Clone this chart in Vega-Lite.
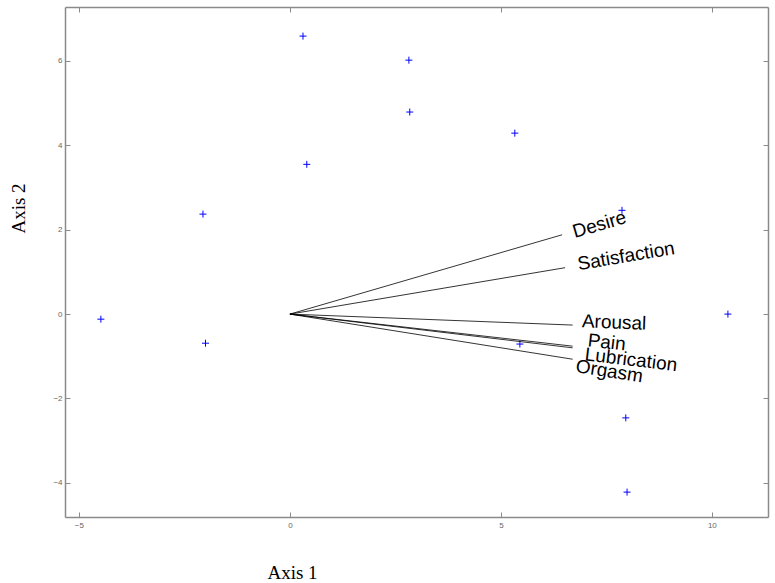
{
  "$schema": "https://vega.github.io/schema/vega-lite/v6.json",
  "width": 703,
  "height": 510,
  "autosize": {"type": "none"},
  "padding": {"left": 65, "top": 7, "right": 7, "bottom": 66},
  "background": "white",
  "config": {
    "view": {"stroke": null},
    "axis": {
      "grid": false,
      "domainColor": "#8a8a8a",
      "domainWidth": 1.5,
      "tickColor": "#8a8a8a",
      "tickSize": -5,
      "labelFont": "Liberation Sans",
      "labelFontSize": 8,
      "labelColor": "#666666",
      "titleFont": "Liberation Serif",
      "titleFontSize": 19,
      "titleFontWeight": "normal",
      "titleColor": "#000000"
    }
  },
  "datasets": {
    "scores": [
      {"a1": 0.31, "a2": 6.59},
      {"a1": 2.82, "a2": 6.02},
      {"a1": 2.84, "a2": 4.79},
      {"a1": 5.33, "a2": 4.29},
      {"a1": 0.40, "a2": 3.55},
      {"a1": -2.06, "a2": 2.37},
      {"a1": 7.87, "a2": 2.46},
      {"a1": 10.38, "a2": 0.0},
      {"a1": -4.48, "a2": -0.12},
      {"a1": -2.0, "a2": -0.69},
      {"a1": 5.45, "a2": -0.71},
      {"a1": 7.96, "a2": -2.46},
      {"a1": 7.99, "a2": -4.22}
    ],
    "vars": [
      {"name": "Desire", "o1": 0, "o2": 0, "c1": 6.45, "c2": 1.88, "lx": 6.71, "ly": 1.94},
      {"name": "Satisfaction", "o1": 0, "o2": 0, "c1": 6.52, "c2": 1.1, "lx": 6.82, "ly": 1.18},
      {"name": "Arousal", "o1": 0, "o2": 0, "c1": 6.7, "c2": -0.26, "lx": 6.92, "ly": -0.17},
      {"name": "Pain", "o1": 0, "o2": 0, "c1": 6.7, "c2": -0.76, "lx": 7.06, "ly": -0.62},
      {"name": "Lubrication", "o1": 0, "o2": 0, "c1": 6.7, "c2": -0.8, "lx": 6.99, "ly": -0.95},
      {"name": "Orgasm", "o1": 0, "o2": 0, "c1": 6.7, "c2": -1.07, "lx": 6.78, "ly": -1.23}
    ]
  },
  "resolve": {"axis": {"x": "independent", "y": "independent"}},
  "layer": [
    {
      "data": {"name": "scores"},
      "mark": {"type": "point", "shape": "M-1,0H1M0,-1V1", "size": 49, "stroke": "#0000ff", "strokeWidth": 1, "filled": false, "opacity": 1},
      "encoding": {
        "x": {"field": "a1", "type": "quantitative",
          "scale": {"domain": [-5.33, 11.33], "nice": false, "zero": false},
          "axis": {"orient": "bottom", "values": [-5, 0, 5, 10], "title": "Axis 1", "labelPadding": 9, "titleX": 227, "titleY": 61, "titleBaseline": "alphabetic", "titleAlign": "center"}},
        "y": {"field": "a2", "type": "quantitative",
          "scale": {"domain": [-4.81, 7.28], "nice": false, "zero": false},
          "axis": {"orient": "left", "values": [-4, -2, 0, 2, 4, 6], "title": "Axis 2", "labelPadding": 8, "titleX": -41, "titleY": 201, "titleBaseline": "alphabetic", "titleAlign": "center", "titleAngle": -90}}
      }
    },
    {
      "data": {"name": "vars"},
      "mark": {"type": "rule", "color": "#000000", "strokeWidth": 0.8},
      "encoding": {
        "x": {"field": "o1", "type": "quantitative",
          "axis": {"orient": "top", "values": [-5, 0, 5, 10], "labels": false, "title": null}},
        "y": {"field": "o2", "type": "quantitative",
          "axis": {"orient": "right", "values": [-4, -2, 0, 2, 4, 6], "labels": false, "title": null}},
        "x2": {"field": "c1"},
        "y2": {"field": "c2"}
      }
    },
    {
      "data": {"name": "vars"},
      "transform": [{"calculate": "-atan2(datum.c2, datum.c1) * 180 / PI", "as": "ang"}],
      "mark": {"type": "text", "align": "left", "baseline": "middle", "font": "Liberation Sans", "fontSize": 19, "color": "#000000"},
      "encoding": {
        "x": {"field": "lx", "type": "quantitative", "axis": null},
        "y": {"field": "ly", "type": "quantitative", "axis": null},
        "text": {"field": "name"},
        "angle": {"field": "ang", "type": "quantitative", "scale": null}
      }
    }
  ]
}
